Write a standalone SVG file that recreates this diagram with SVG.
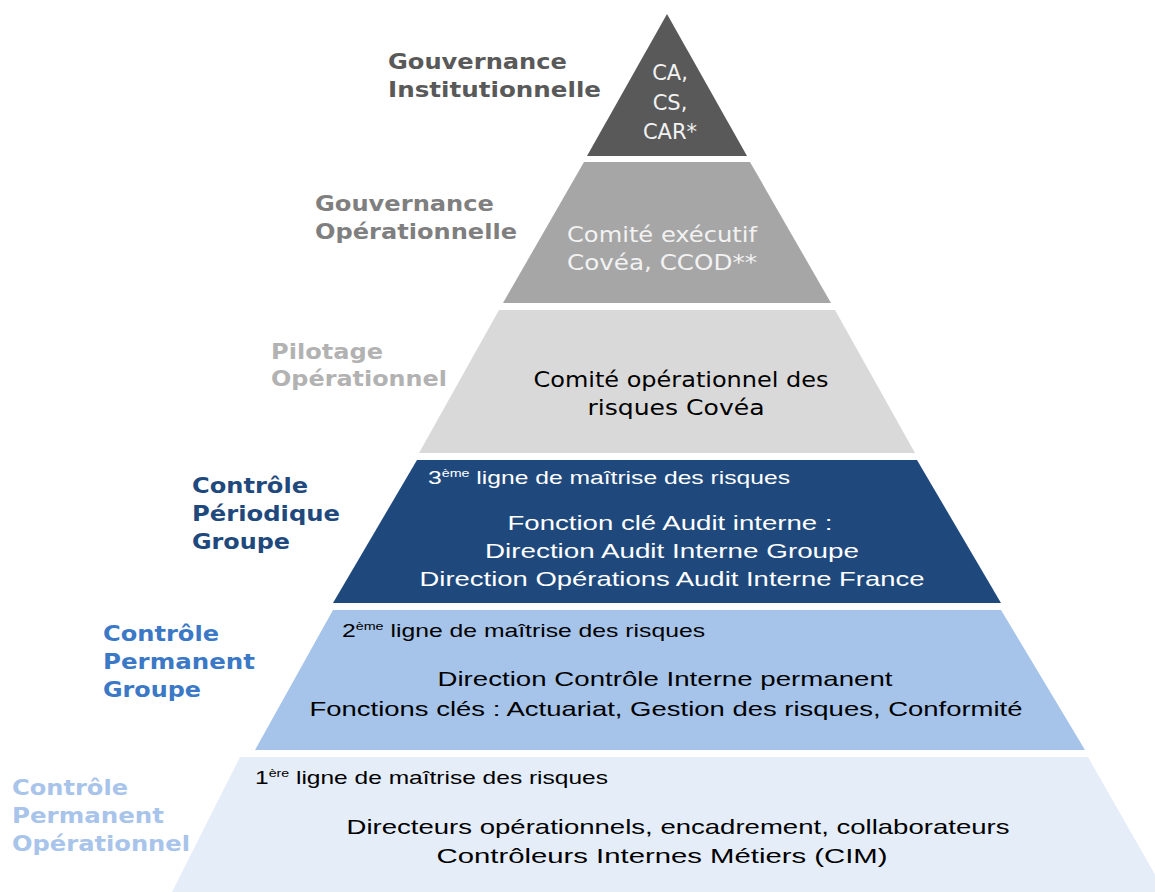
<svg xmlns="http://www.w3.org/2000/svg" width="1155" height="892" viewBox="0 0 1155 892">
<style>
.lbl{font-family:"DejaVu Sans",Verdana,sans-serif;font-weight:bold;font-size:22px}
.v{font-family:"DejaVu Sans",Verdana,sans-serif;font-size:21px}
.c{font-family:"Liberation Sans",Arial,sans-serif;font-size:21px}
.s{font-family:"Liberation Sans",Arial,sans-serif;font-size:19px}
.sup{font-size:11px}
</style>
<rect width="1155" height="892" fill="#ffffff"/>
<g id="level1">
<polygon points="667,14 747,156 587,156" fill="#595959"/>
<text class="lbl" fill="#595959" x="388" y="69" textLength="179" lengthAdjust="spacingAndGlyphs">Gouvernance</text>
<text class="lbl" fill="#595959" x="388" y="97" textLength="213" lengthAdjust="spacingAndGlyphs">Institutionnelle</text>
<g class="v" fill="#f2f2f2" text-anchor="middle">
<text x="670" y="80">CA,</text>
<text x="670" y="110">CS,</text>
<text x="670" y="139">CAR*</text>
</g>
</g>
<g id="level2">
<polygon points="584,162 750,162 831,303 503,303" fill="#a6a6a6"/>
<text class="lbl" fill="#7f7f7f" x="315" y="211" textLength="179" lengthAdjust="spacingAndGlyphs">Gouvernance</text>
<text class="lbl" fill="#7f7f7f" x="315" y="239" textLength="202" lengthAdjust="spacingAndGlyphs">Opérationnelle</text>
<g class="v" fill="#f2f2f2" text-anchor="middle">
<text x="662" y="242" textLength="190" lengthAdjust="spacingAndGlyphs">Comité exécutif</text>
<text x="662" y="270" textLength="190" lengthAdjust="spacingAndGlyphs">Covéa, CCOD**</text>
</g>
</g>
<g id="level3">
<polygon points="499,310 835,310 915,453 419,453" fill="#d9d9d9"/>
<text class="lbl" fill="#b2b2b2" x="271" y="359" textLength="112" lengthAdjust="spacingAndGlyphs">Pilotage</text>
<text class="lbl" fill="#b2b2b2" x="271" y="386" textLength="176" lengthAdjust="spacingAndGlyphs">Opérationnel</text>
<g class="v" fill="#000000" text-anchor="middle">
<text x="681" y="387" textLength="295" lengthAdjust="spacingAndGlyphs">Comité opérationnel des</text>
<text x="676" y="415" textLength="177" lengthAdjust="spacingAndGlyphs">risques Covéa</text>
</g>
</g>
<g id="level4">
<polygon points="417,460 917,460 1001,603 333,603" fill="#1f497d"/>
<text class="lbl" fill="#1f497d" x="192" y="493" textLength="116" lengthAdjust="spacingAndGlyphs">Contrôle</text>
<text class="lbl" fill="#1f497d" x="192" y="521" textLength="148" lengthAdjust="spacingAndGlyphs">Périodique</text>
<text class="lbl" fill="#1f497d" x="192" y="549" textLength="98" lengthAdjust="spacingAndGlyphs">Groupe</text>
<text class="s" fill="#ffffff" x="428" y="484" textLength="362" lengthAdjust="spacingAndGlyphs">3<tspan class="sup" dy="-7">ème</tspan><tspan dy="7"> ligne de maîtrise des risques</tspan></text>
<g class="c" fill="#ffffff" text-anchor="middle">
<text x="670" y="530" textLength="325" lengthAdjust="spacingAndGlyphs">Fonction clé Audit interne :</text>
<text x="672" y="558" textLength="374" lengthAdjust="spacingAndGlyphs">Direction Audit Interne Groupe</text>
<text x="672" y="586" textLength="505" lengthAdjust="spacingAndGlyphs">Direction Opérations Audit Interne France</text>
</g>
</g>
<g id="level5">
<polygon points="333,610 1001,610 1085,750 255,750" fill="#a6c4e9"/>
<text class="lbl" fill="#3b78c6" x="103" y="641" textLength="116" lengthAdjust="spacingAndGlyphs">Contrôle</text>
<text class="lbl" fill="#3b78c6" x="103" y="669" textLength="152" lengthAdjust="spacingAndGlyphs">Permanent</text>
<text class="lbl" fill="#3b78c6" x="103" y="697" textLength="98" lengthAdjust="spacingAndGlyphs">Groupe</text>
<text class="s" fill="#000000" x="342" y="637" textLength="363" lengthAdjust="spacingAndGlyphs">2<tspan class="sup" dy="-7">ème</tspan><tspan dy="7"> ligne de maîtrise des risques</tspan></text>
<g class="c" fill="#000000" text-anchor="middle">
<text x="665" y="686" textLength="455" lengthAdjust="spacingAndGlyphs">Direction Contrôle Interne permanent</text>
<text x="666" y="716" textLength="713" lengthAdjust="spacingAndGlyphs">Fonctions clés : Actuariat, Gestion des risques, Conformité</text>
</g>
</g>
<g id="level6">
<polygon points="240,757 1088,757 1165,892 172,892" fill="#e5edf8"/>
<text class="lbl" fill="#a8c4ea" x="12" y="795" textLength="116" lengthAdjust="spacingAndGlyphs">Contrôle</text>
<text class="lbl" fill="#a8c4ea" x="12" y="823" textLength="152" lengthAdjust="spacingAndGlyphs">Permanent</text>
<text class="lbl" fill="#a8c4ea" x="12" y="851" textLength="178" lengthAdjust="spacingAndGlyphs">Opérationnel</text>
<text class="s" fill="#000000" x="255" y="784" textLength="353" lengthAdjust="spacingAndGlyphs">1<tspan class="sup" dy="-7">ère</tspan><tspan dy="7"> ligne de maîtrise des risques</tspan></text>
<g class="c" fill="#000000" text-anchor="middle">
<text x="678" y="834" textLength="663" lengthAdjust="spacingAndGlyphs">Directeurs opérationnels, encadrement, collaborateurs</text>
<text x="662" y="863" textLength="451" lengthAdjust="spacingAndGlyphs">Contrôleurs Internes Métiers (CIM)</text>
</g>
</g>
<g id="connectors"/>
</svg>
